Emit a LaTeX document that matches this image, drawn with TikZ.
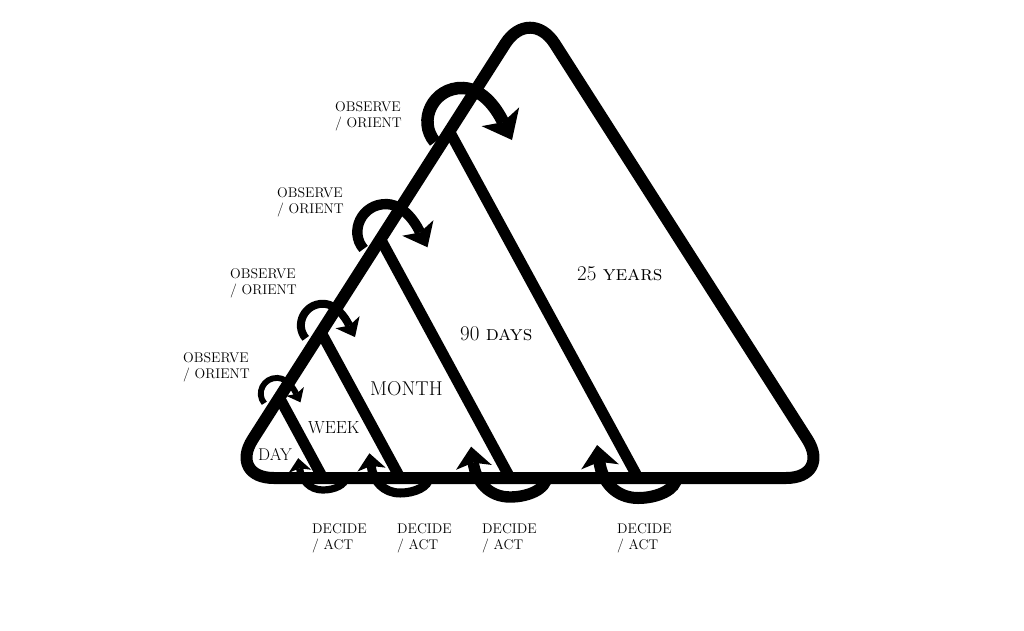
\documentclass[tikz,border=0pt]{standalone}
\usetikzlibrary{arrows.meta,calc}

\begin{document}
\begin{tikzpicture}[
    x=1pt, y=1pt,
    frame/.style={line width=12pt, line join=round},
    span/.style={line width=11pt},
    looptext/.style={font=\fontsize{14}{16}\selectfont, align=left, anchor=north west, inner sep=0pt},
    spantext/.style={font=\fontsize{20}{24}\selectfont, anchor=base west, inner sep=0pt},
    pics/observe/.style={code={
        \draw[scale=#1, line width=12.5pt*#1,
              -{Stealth[length=26pt, width=42pt, inset=6pt, line width=0pt, scale=#1]}]
            (-27,-24) .. controls (-45,-3) and (-29,31) .. (1,30)
            .. controls (26,29) and (40,-2) .. (50,-22);
    }},
    pics/decide/.style={code={
        \draw[scale=#1, line width=12pt*#1,
              -{Stealth[length=22pt, width=38pt, inset=5pt, line width=0pt, scale=#1]}]
            (38,0) .. controls (38,-11) and (20,-20) .. (0,-20)
            .. controls (-22,-20) and (-36,-4) .. (-41,33);
    }},
]
    \useasboundingbox (0,0) rectangle (1024,-630);

    % outer triangle
    \coordinate (bl) at (228,-478);
    \coordinate (apex) at (530,-5);
    \coordinate (br) at (832,-478);
    \draw[frame, rounded corners=46pt] ($(bl)!0.5!(br)$) -- (br) -- (apex) -- (bl) -- cycle;

    % inner spans, from the left edge down to the base
    \coordinate (o1) at ($(bl)!0.733!(apex)$);
    \coordinate (d1) at ($(bl)!0.679!(br)$);
    \coordinate (o2) at ($(bl)!0.505!(apex)$);
    \coordinate (d2) at ($(bl)!0.467!(br)$);
    \coordinate (o3) at ($(bl)!0.308!(apex)$);
    \coordinate (d3) at ($(bl)!0.285!(br)$);
    \coordinate (o4) at ($(bl)!0.170!(apex)$);
    \coordinate (d4) at ($(bl)!0.157!(br)$);
    \draw[span] (o1) -- (d1);
    \draw[span] (o2) -- (d2);
    \draw[span] (o3) -- (d3);
    \draw[span] (o4) -- (d4);

    % observe / orient loops
    \pic (obs1) at (462,-118) {observe=1};
    \pic (obs2) at (386,-229) {observe=0.83};
    \pic (obs3) at (323,-323) {observe=0.64};
    \pic (obs4) at (277,-392) {observe=0.47};

    % decide / act loops
    \pic (dec1) at (d1) {decide=1};
    \pic (dec2) at (d2) {decide=0.95};
    \pic (dec3) at (d3) {decide=0.75};
    \pic (dec4) at (d4) {decide=0.6};

    \node[looptext] (obs1txt) at (335,-101) {OBSERVE\\/ ORIENT};
    \node[looptext] (obs2txt) at (277,-187) {OBSERVE\\/ ORIENT};
    \node[looptext] (obs3txt) at (230,-268) {OBSERVE\\/ ORIENT};
    \node[looptext] (obs4txt) at (183,-352) {OBSERVE\\/ ORIENT};

    \node[looptext] (dec1txt) at (617,-523) {DECIDE\\/ ACT};
    \node[looptext] (dec2txt) at (482,-523) {DECIDE\\/ ACT};
    \node[looptext] (dec3txt) at (397,-523) {DECIDE\\/ ACT};
    \node[looptext] (dec4txt) at (312,-523) {DECIDE\\/ ACT};

    \node[spantext, font=\fontsize{21}{24}\selectfont] (years) at (577,-280) {25 \textsc{years}};
    \node[spantext, font=\fontsize{21}{24}\selectfont] (days) at (460,-340) {90 \textsc{days}};
    \node[spantext] (month) at (370,-395) {MONTH};
    \node[spantext, font=\fontsize{17.5}{20}\selectfont] (week) at (308,-433) {WEEK};
    \node[spantext, font=\fontsize{17}{20}\selectfont] (day) at (258,-460) {DAY};
\end{tikzpicture}
\end{document}
